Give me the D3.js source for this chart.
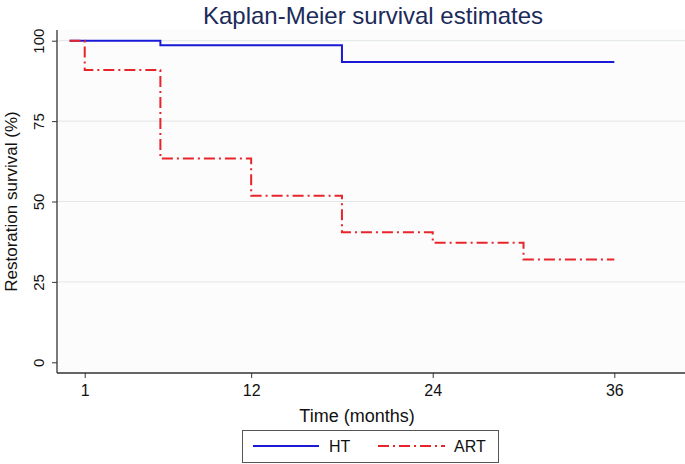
<!DOCTYPE html>
<html><head><meta charset="utf-8">
<script src="https://cdn.jsdelivr.net/npm/d3@7"></script>
<style>body{margin:0;background:#fff}svg{display:block;font-family:"Liberation Sans",Arial,sans-serif}</style>
</head><body><svg id="c" width="685" height="464"></svg>
<script>
const htTimes = [0, 6, 18, 36];
const htValues = [100, 98.6, 93.4, 93.4];
const artTimes = [0, 1, 6, 12, 18, 24, 30, 36];
const artValues = [100, 90.9, 63.4, 51.8, 40.4, 37.2, 32.0, 32.0];
const xTicks = [1, 12, 24, 36];
const yTicks = [0, 25, 50, 75, 100];
const seriesNames = ["HT", "ART"];

(function(){
const svg = d3.select("#c");
const x = d3.scaleLinear().domain([0, 36]).range([69.6, 614.3]);
const y = d3.scaleLinear().domain([0, 100]).range([362.3, 40.7]);
const pL = 57, pB = 373, pT = 30, pR = 685;

svg.append("rect").attr("x", pL).attr("y", pT).attr("width", pR-pL).attr("height", pB-pT).attr("fill", "#fcfcfc");

svg.append("g").selectAll("line").data(yTicks.filter(d => d > 0)).join("line")
  .attr("x1", pL).attr("x2", pR).attr("y1", d => y(d)).attr("y2", d => y(d))
  .attr("stroke", "#e2e6e6").attr("stroke-width", 1);

const ya = svg.append("g").attr("transform", `translate(${pL},0)`)
  .call(d3.axisLeft(y).tickValues(yTicks).tickSize(5));
ya.select(".domain").attr("d", `M0,${pT}V${pB}`).attr("stroke", "#333").attr("stroke-width", 1.3);
ya.selectAll(".tick line").attr("stroke", "#333");
ya.selectAll(".tick text").attr("font-size", 15).attr("fill", "#111")
  .attr("transform", "rotate(-90)").attr("x", 0).attr("y", -13)
  .attr("text-anchor", "middle").attr("dy", 0);

const xa = svg.append("g").attr("transform", `translate(0,${pB})`)
  .call(d3.axisBottom(x).tickValues(xTicks).tickSize(5).tickPadding(7));
xa.select(".domain").attr("d", `M${pL},0H${pR}`).attr("stroke", "#333").attr("stroke-width", 1.3);
xa.selectAll(".tick line").attr("stroke", "#333");
xa.selectAll(".tick text").attr("font-size", 16).attr("fill", "#111");

svg.append("text").attr("x", 373).attr("y", 24).attr("text-anchor", "middle")
  .attr("font-size", 24).attr("fill", "#1c2b5a").text("Kaplan-Meier survival estimates");
svg.append("text").attr("x", 357).attr("y", 422).attr("text-anchor", "middle")
  .attr("font-size", 18).attr("fill", "#111").text("Time (months)");
svg.append("text").attr("transform", `translate(17,${y(50)}) rotate(-90)`).attr("text-anchor", "middle")
  .attr("font-size", 17).attr("fill", "#111").text("Restoration survival (%)");

const line = d3.line().x(d => x(d[0])).y(d => y(d[1])).curve(d3.curveStepAfter);
svg.append("path").datum(htTimes.map((t,i) => [t, htValues[i]]))
  .attr("d", line).attr("fill", "none").attr("stroke", "#1a1ad6").attr("stroke-width", 2);
svg.append("path").datum(artTimes.map((t,i) => [t, artValues[i]]))
  .attr("d", line).attr("fill", "none").attr("stroke", "#e8242b").attr("stroke-width", 2)
  .attr("stroke-dasharray", "11,4,2,4");

const lg = svg.append("g");
lg.append("rect").attr("x", 242.5).attr("y", 430.5).attr("width", 256).attr("height", 32)
  .attr("fill", "#fff").attr("stroke", "#555").attr("stroke-width", 1);
lg.append("line").attr("x1", 253).attr("x2", 319).attr("y1", 446).attr("y2", 446)
  .attr("stroke", "#1a1ad6").attr("stroke-width", 2);
lg.append("text").attr("x", 329).attr("y", 452).attr("font-size", 16).attr("fill", "#111").text(seriesNames[0]);
lg.append("line").attr("x1", 378).attr("x2", 445).attr("y1", 446).attr("y2", 446)
  .attr("stroke", "#e8242b").attr("stroke-width", 2).attr("stroke-dasharray", "11,4,2,4");
lg.append("text").attr("x", 454).attr("y", 452).attr("font-size", 16).attr("fill", "#111").text(seriesNames[1]);
})();
</script></body></html>
